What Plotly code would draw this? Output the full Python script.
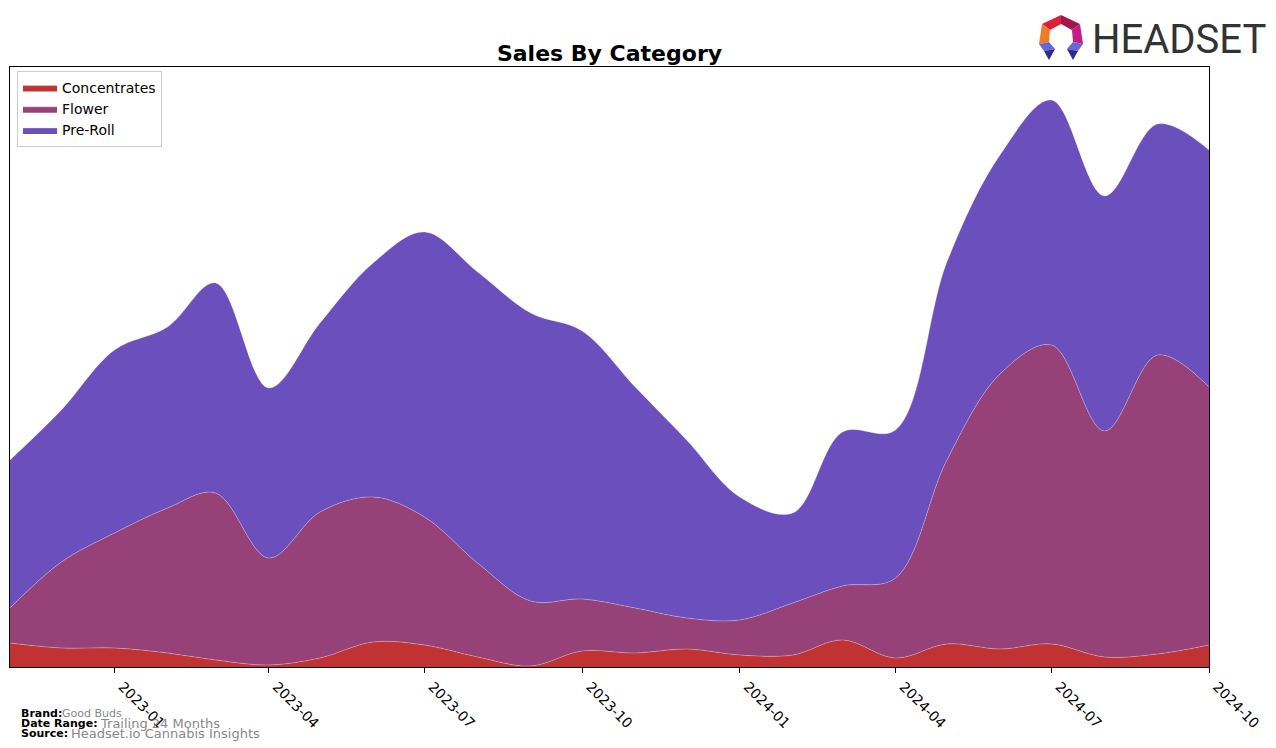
import plotly.graph_objects as go

months = ["2022-11-01", "2022-12-01", "2023-01-01", "2023-02-01", "2023-03-01", "2023-04-01",
          "2023-05-01", "2023-06-01", "2023-07-01", "2023-08-01", "2023-09-01", "2023-10-01",
          "2023-11-01", "2023-12-01", "2024-01-01", "2024-02-01", "2024-03-01", "2024-04-01",
          "2024-05-01", "2024-06-01", "2024-07-01", "2024-08-01", "2024-09-01", "2024-10-01"]

concentrates = [24, 19, 19, 14, 7, 2, 9, 25, 22, 10, 1, 16,
                14, 18, 12, 12, 27, 9, 23, 18, 23, 10, 13, 22]
flower = [35, 86, 115, 145, 167, 107, 146, 145, 128, 94, 65, 52,
          45, 31, 35, 52, 54, 80, 184, 275, 299, 226, 299, 258]
pre_roll = [148, 152, 183, 181, 210, 170, 189, 234, 285, 291, 288, 268,
            221, 178, 123, 90, 154, 148, 198, 219, 245, 235, 231, 237]

tick_vals = ["2023-01-01", "2023-04-01", "2023-07-01", "2023-10-01",
             "2024-01-01", "2024-04-01", "2024-07-01", "2024-10-01"]
tick_text = ["2023-01", "2023-04", "2023-07", "2023-10",
             "2024-01", "2024-04", "2024-07", "2024-10"]

series = [("Concentrates", concentrates, "#C13232"),
          ("Flower", flower, "#964278"),
          ("Pre-Roll", pre_roll, "#6A4FBD")]

fig = go.Figure()
for name, vals, col in series:
    fig.add_trace(go.Scatter(
        x=months, y=vals, name=name, mode="lines", stackgroup="one",
        line=dict(shape="spline", smoothing=1.0, width=0.8, color="rgba(255,255,255,0.35)"),
        fillcolor=col, hoverinfo="x+y+name"))

W, H = 1276, 748
L, R, T, B = 10, 1209, 67, 667

fig.update_layout(
    width=W, height=H,
    margin=dict(l=L, r=W - R, t=T, b=H - B),
    paper_bgcolor="white", plot_bgcolor="white",
    font=dict(family="DejaVu Sans", color="black"),
    title=dict(text="<b>Sales By Category</b>", x=(L + R) / 2 / W, xanchor="center",
               y=1 - 53 / H, yanchor="middle", font=dict(size=22, family="DejaVu Sans")),
    showlegend=True,
    legend=dict(x=(17 - L) / (R - L), y=1 - (71 - T) / (B - T), xanchor="left", yanchor="top",
                bgcolor="white", bordercolor="#cccccc", borderwidth=1,
                font=dict(size=14, family="DejaVu Sans"), traceorder="normal",
                itemwidth=34, tracegroupgap=2),
    xaxis=dict(range=["2022-11-01", "2024-10-01"], tickvals=tick_vals, ticktext=tick_text,
               tickangle=45, ticks="outside", ticklen=5, tickcolor="black", ticklabelshift=8,
               showline=True, linecolor="black", linewidth=1, mirror=True,
               showgrid=False, zeroline=False, tickfont=dict(size=14, family="DejaVu Sans")),
    yaxis=dict(range=[0, 600], showticklabels=False, ticks="", showline=True,
               linecolor="black", linewidth=1, mirror=True, showgrid=False, zeroline=False),
)

# footer
def ann(text, x, y, size, color, bold=False):
    fig.add_annotation(text=("<b>%s</b>" % text) if bold else text, xref="paper", yref="paper",
                       x=(x - L) / (R - L), y=1 - (y - T) / (B - T), xanchor="left", yanchor="middle",
                       showarrow=False, font=dict(size=size, color=color, family="DejaVu Sans"))

ann("Brand:", 19, 713, 11, "black", True)
ann("Good Buds", 60, 713, 11, "#888888")
ann("Date Range:", 19, 723, 11, "black", True)
ann("Trailing 24 Months", 98, 723, 13, "#888888")
ann("Source:", 19, 733, 11, "black", True)
ann("Headset.io Cannabis Insights", 69, 733, 13, "#888888")

# logo text
fig.add_annotation(text="HEADSET", xref="paper", yref="paper",
                   x=(1090 - L) / (R - L), y=1 - (39 - T) / (B - T), xanchor="left", yanchor="middle",
                   showarrow=False,
                   font=dict(size=40, color="#333333", family="Roboto"))

# logo icon polygons (pixel coordinates converted to paper)
def px(x, y):
    return (x - L) / (R - L), 1 - (y - T) / (B - T)

def poly(points, color):
    pts = [px(a, b) for a, b in points]
    path = "M " + " L ".join("%f,%f" % p for p in pts) + " Z"
    fig.add_shape(type="path", path=path, xref="paper", yref="paper",
                  fillcolor=color, line=dict(width=0), layer="above")

poly([(1042, 24), (1061, 15), (1061, 24), (1050, 30)], "#E0203A")
poly([(1061, 15), (1080, 24), (1072, 30), (1061, 24)], "#A4154F")
poly([(1042, 24), (1050, 30), (1049, 42), (1039, 44)], "#F27C26")
poly([(1080, 24), (1072, 30), (1073, 42), (1083, 44)], "#C41F7E")
poly([(1039, 44), (1049, 42), (1055, 49), (1044, 51)], "#6666D6")
poly([(1044, 51), (1055, 49), (1049, 60)], "#2C2C8C")
poly([(1083, 44), (1073, 42), (1067, 49), (1078, 51)], "#6666D6")
poly([(1078, 51), (1067, 49), (1073, 60)], "#2C2C8C")

fig.write_html("out.html")
